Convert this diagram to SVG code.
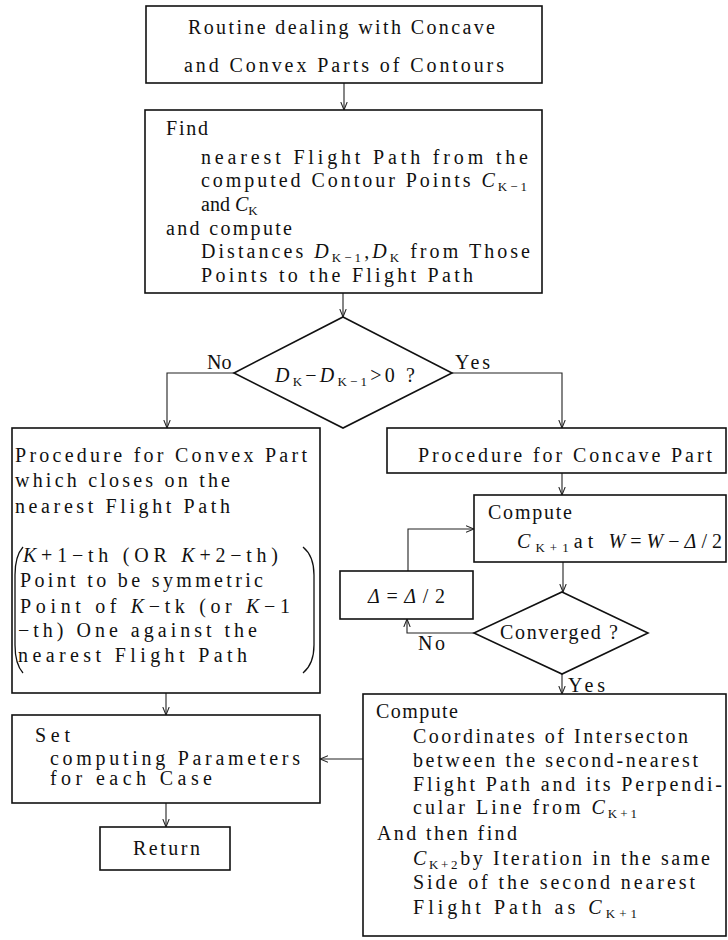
<svg xmlns="http://www.w3.org/2000/svg" width="728" height="940" viewBox="0 0 728 940">
  <style>
    .box { fill: #fff; stroke: #111; stroke-width: 1.6; }
    .ln { fill: none; stroke: #222; stroke-width: 1.1; }
    .t { font-family: "Liberation Serif", "Times New Roman", serif; font-size: 20px; fill: #111; }
    .i { font-style: italic; }
    .s { font-size: 13px; }
  </style>
  <defs>
    <marker id="ah" viewBox="0 0 10 10" refX="10" refY="5" markerWidth="8" markerHeight="8" orient="auto" markerUnits="userSpaceOnUse">
      <path d="M0,1 L10,5 L0,9" fill="none" stroke="#222" stroke-width="1.3"/>
    </marker>
  </defs>
  <rect width="728" height="940" fill="#fff"/>

  <g id="connectors" class="ln" marker-end="url(#ah)">
    <path d="M344,83 V110"/>
    <path d="M343,293 V317"/>
    <path d="M234,373 H167 V428"/>
    <path d="M452,373 H562 V428"/>
    <path d="M562,473 V495"/>
    <path d="M563,562 V592"/>
    <path d="M474,633 H407 V619"/>
    <path d="M408,571 V529 H474"/>
    <path d="M562,674 V694"/>
    <path d="M166,693 V715"/>
    <path d="M166,803 V827"/>
    <path d="M363,759 H320"/>
  </g>

  <g id="start">
    <rect class="box" x="146" y="6" width="396" height="77"/>
    <text class="t" x="188" y="34" textLength="307" lengthAdjust="spacing">Routine dealing with Concave</text>
    <text class="t" x="184" y="72" textLength="320" lengthAdjust="spacing">and Convex Parts of Contours</text>
  </g>

  <g id="find">
    <rect class="box" x="145" y="110" width="397" height="183"/>
    <text class="t" x="166" y="135" textLength="42" lengthAdjust="spacing">Find</text>
    <text class="t" x="201" y="164" textLength="327" lengthAdjust="spacing">nearest Flight Path from the</text>
    <text class="t" x="201" y="187" textLength="326" lengthAdjust="spacing">computed Contour Points <tspan class="i">C</tspan><tspan class="s" dy="4">K−1</tspan></text>
    <text class="t" x="201" y="211">and <tspan class="i">C</tspan><tspan class="s" dy="4">K</tspan></text>
    <text class="t" x="166" y="235" textLength="126" lengthAdjust="spacing">and compute</text>
    <text class="t" x="201" y="258" textLength="329" lengthAdjust="spacing">Distances <tspan class="i">D</tspan><tspan class="s" dy="4">K−1</tspan><tspan dy="-4">,</tspan><tspan class="i">D</tspan><tspan class="s" dy="4">K</tspan><tspan dy="-4"> from Those</tspan></text>
    <text class="t" x="201" y="282" textLength="272" lengthAdjust="spacing">Points to the Flight Path</text>
  </g>

  <g id="test-distance">
    <polygon class="box" points="343,317 452,373 343,428 234,373"/>
    <text class="t" x="275" y="382" textLength="140" lengthAdjust="spacing"><tspan class="i">D</tspan><tspan class="s" dy="4">K</tspan><tspan dy="-4">−</tspan><tspan class="i">D</tspan><tspan class="s" dy="4">K−1</tspan><tspan dy="-4">&gt;0 ?</tspan></text>
    <text class="t" x="207" y="369">No</text>
    <text class="t" x="455" y="369" textLength="35" lengthAdjust="spacing">Yes</text>
  </g>

  <g id="convex">
    <rect class="box" x="12" y="428" width="308" height="265"/>
    <text class="t" x="15" y="462" textLength="292" lengthAdjust="spacing">Procedure for Convex Part</text>
    <text class="t" x="15" y="487" textLength="215" lengthAdjust="spacing">which closes on the</text>
    <text class="t" x="15" y="513" textLength="215" lengthAdjust="spacing">nearest Flight Path</text>
    <path d="M23,547 Q15,556 15,575 L15,645 Q15,664 23,673" fill="none" stroke="#111" stroke-width="1.3"/>
    <path d="M303,547 Q314,556 314,575 L314,645 Q314,664 303,673" fill="none" stroke="#111" stroke-width="1.3"/>
    <text class="t" x="23" y="562" textLength="255" lengthAdjust="spacing"><tspan class="i">K</tspan>+1−th (OR <tspan class="i">K</tspan>+2−th)</text>
    <text class="t" x="20" y="587" textLength="243" lengthAdjust="spacing">Point to be symmetric</text>
    <text class="t" x="20" y="613" textLength="270" lengthAdjust="spacing">Point of <tspan class="i">K</tspan>−tk (or <tspan class="i">K</tspan>−1</text>
    <text class="t" x="18" y="637" textLength="239" lengthAdjust="spacing">−th) One against the</text>
    <text class="t" x="18" y="662" textLength="229" lengthAdjust="spacing">nearest Flight Path</text>
  </g>

  <g id="concave">
    <rect class="box" x="387" y="428" width="339" height="45"/>
    <text class="t" x="418" y="462" textLength="294" lengthAdjust="spacing">Procedure for Concave Part</text>
  </g>

  <g id="compute-point">
    <rect class="box" x="474" y="495" width="252" height="67"/>
    <text class="t" x="488" y="519" textLength="84" lengthAdjust="spacing">Compute</text>
    <text class="t" x="517" y="548" textLength="205" lengthAdjust="spacing"><tspan class="i">C</tspan><tspan class="s" dy="4">K+1</tspan><tspan dy="-4">at </tspan><tspan class="i">W</tspan>=<tspan class="i">W</tspan>−<tspan class="i">Δ</tspan>/2</text>
  </g>

  <g id="halve-step">
    <rect class="box" x="340" y="571" width="133" height="48"/>
    <text class="t" x="368" y="603" textLength="77" lengthAdjust="spacing"><tspan class="i">Δ</tspan>=<tspan class="i">Δ</tspan>/2</text>
  </g>

  <g id="converged">
    <polygon class="box" points="562,592 648,633 562,674 474,633"/>
    <text class="t" x="500" y="639" textLength="118" lengthAdjust="spacing">Converged ?</text>
    <text class="t" x="418" y="650" textLength="27" lengthAdjust="spacing">No</text>
    <text class="t" x="568" y="692" textLength="37" lengthAdjust="spacing">Yes</text>
  </g>

  <g id="intersection">
    <rect class="box" x="363" y="694" width="363" height="242"/>
    <text class="t" x="376" y="718" textLength="82" lengthAdjust="spacing">Compute</text>
    <text class="t" x="413" y="743" textLength="275" lengthAdjust="spacing">Coordinates of Intersecton</text>
    <text class="t" x="413" y="767" textLength="285" lengthAdjust="spacing">between the second-nearest</text>
    <text class="t" x="413" y="791" textLength="309" lengthAdjust="spacing">Flight Path and its Perpendi-</text>
    <text class="t" x="413" y="814" textLength="224" lengthAdjust="spacing">cular Line from <tspan class="i">C</tspan><tspan class="s" dy="4">K+1</tspan></text>
    <text class="t" x="377" y="840" textLength="140" lengthAdjust="spacing">And then find</text>
    <text class="t" x="413" y="865" textLength="297" lengthAdjust="spacing"><tspan class="i">C</tspan><tspan class="s" dy="4">K+2</tspan><tspan dy="-4">by Iteration in the same</tspan></text>
    <text class="t" x="413" y="889" textLength="282" lengthAdjust="spacing">Side of the second nearest</text>
    <text class="t" x="413" y="914" textLength="224" lengthAdjust="spacing">Flight Path as <tspan class="i">C</tspan><tspan class="s" dy="4">K+1</tspan></text>
  </g>

  <g id="set-params">
    <rect class="box" x="12" y="715" width="308" height="88"/>
    <text class="t" x="35" y="742" textLength="35" lengthAdjust="spacing">Set</text>
    <text class="t" x="50" y="765" textLength="250" lengthAdjust="spacing">computing Parameters</text>
    <text class="t" x="50" y="785" textLength="162" lengthAdjust="spacing">for each Case</text>
  </g>

  <g id="return">
    <rect class="box" x="100" y="827" width="130" height="43"/>
    <text class="t" x="133" y="855" textLength="67" lengthAdjust="spacing">Return</text>
  </g>
</svg>
